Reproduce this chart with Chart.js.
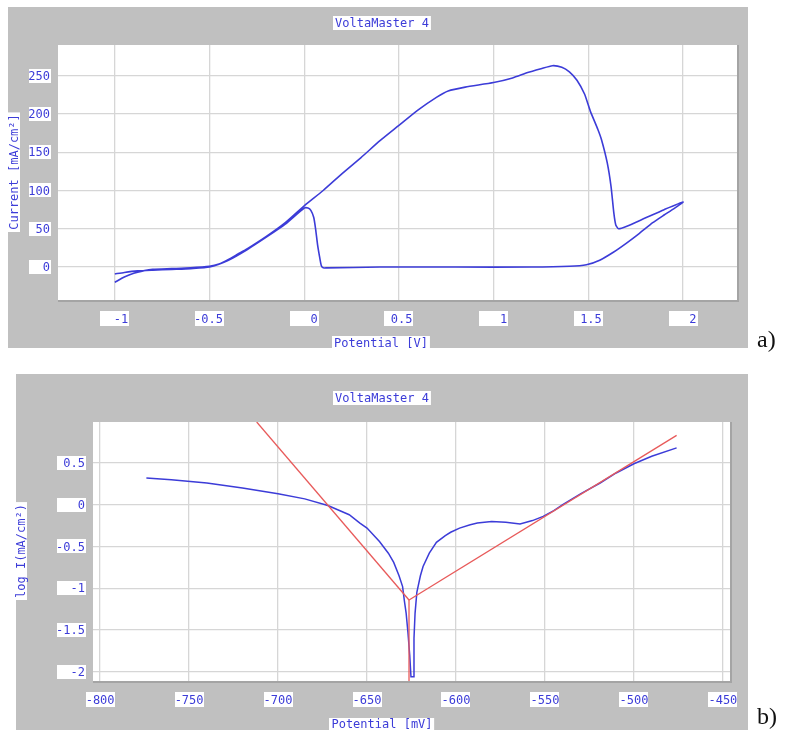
<!DOCTYPE html>
<html>
<head>
<meta charset="utf-8">
<script src="https://cdn.jsdelivr.net/npm/chart.js@4.4.1/dist/chart.umd.min.js"></script>
<style>
  body { margin: 0; background: #fff; width: 790px; height: 738px; position: relative; overflow: hidden; }
  canvas { position: absolute; left: 0; }
  #c1 { top: 0; }
  #c2 { top: 360px; }
  .tag { position: absolute; left: 757px; font: 24px "Liberation Serif", "DejaVu Serif", serif; color: #111; }
</style>
</head>
<body>
<canvas id="c1" width="790" height="360" style="width:790px;height:360px"></canvas>
<canvas id="c2" width="790" height="378" style="width:790px;height:378px"></canvas>
<div class="tag" style="top:326px">a)</div>
<div class="tag" style="top:703px">b)</div>
<script>
// a) voltamograma ciclico
const cvPotential = [-1.00, -0.95, -0.90, -0.85, -0.80, -0.70, -0.60, -0.50, -0.45, -0.40, -0.35, -0.30, -0.20, -0.10, 0.00,
  0.10, 0.20, 0.30, 0.40, 0.50, 0.60, 0.70, 0.76, 0.85, 1.00, 1.10, 1.18, 1.25, 1.31, 1.36, 1.40, 1.44, 1.48, 1.51, 1.55,
  1.57, 1.60, 1.62, 1.635, 1.645, 1.66, 1.70, 1.80, 1.90, 2.00,
  1.95, 1.90, 1.84, 1.77, 1.70, 1.63, 1.56, 1.49, 1.40, 1.20, 0.80, 0.40, 0.12, 0.10, 0.09, 0.08, 0.07, 0.06, 0.05, 0.035, 0.02, 0.00,
  -0.10, -0.20, -0.30, -0.40, -0.50, -0.60, -0.70, -0.80, -0.88, -0.95, -1.00];
const cvCurrent = [-20, -13, -8, -5, -3, -2, -1, 1, 4, 10, 17, 24, 40, 58, 80,
  100, 122, 143, 165, 185, 205, 222, 230, 235, 241, 247, 254, 259, 263, 261, 255, 244, 226, 204, 180,
  166, 136, 105, 70, 55, 50, 53, 64, 75, 85,
  76, 68, 58, 44, 31, 19, 9, 3, 1, 0, 0, 0, -1, -1, 2, 15, 30, 50, 65, 74, 77, 77,
  56, 39, 23, 9, 0, -2, -3, -4, -5, -7, -9];
const cvXTicks = [-1, -0.5, 0, 0.5, 1, 1.5, 2];
const cvYTicks = [0, 50, 100, 150, 200, 250];

// b) curva de Tafel
const logPotential = [-774, -760, -740, -720, -700, -685, -672, -660, -654, -650, -643, -638, -635, -632, -630, -629, -628, -627,
  -626, -625.3, -624, -623.6, -623, -622, -620, -618.5, -615, -611, -606, -603, -598, -592, -588, -580, -572, -564, -557,
  -551, -545, -540, -530, -519, -510, -500, -490, -476];
const logCurrent = [0.32, 0.30, 0.26, 0.20, 0.13, 0.07, -0.01, -0.12, -0.22, -0.28, -0.44, -0.58, -0.69, -0.85, -0.98, -1.15, -1.30, -1.53,
  -1.80, -2.06, -2.06, -1.60, -1.30, -1.05, -0.85, -0.74, -0.58, -0.45, -0.37, -0.33, -0.28, -0.24, -0.22, -0.20, -0.21, -0.23, -0.19,
  -0.14, -0.07, 0.00, 0.13, 0.26, 0.38, 0.49, 0.58, 0.68];
const cathodicPotential = [-712, -626.4];
const cathodicLogI = [0.99, -1.14];
const anodicPotential = [-626.4, -476];
const anodicLogI = [-1.14, 0.83];
const ecorrPotential = [-626.4, -626.4];
const ecorrLogI = [-1.14, -2.11];
const logXTicks = [-800, -750, -700, -650, -600, -550, -500, -450];
const logYTicks = [0.5, 0, -0.5, -1, -1.5, -2];

const azul = '#3c3cd8';
const rojo = '#e85a5a';
const fuente = '12px "DejaVu Sans Mono", "Liberation Mono", monospace';

function puntos(xs, ys) {
    return xs.map((x, i) => ({ x: x, y: ys[i] }));
}

function caja(ctx, texto, cx, cy, w, h, align) {
    ctx.fillStyle = '#fff';
    ctx.fillRect(Math.round(cx - w / 2), Math.round(cy - h / 2), w, h);
    ctx.fillStyle = azul;
    ctx.textBaseline = 'middle';
    if (align === 'right') {
        ctx.textAlign = 'right';
        ctx.fillText(texto, cx + w / 2 - 1, cy + 1);
    } else {
        ctx.textAlign = 'center';
        ctx.fillText(texto, cx, cy + 1);
    }
}

// marco gris estilo VoltaMaster, etiquetas en cajitas blancas
function marco(opc) {
    return {
        id: 'marco',
        beforeDraw(chart) {
            const ctx = chart.ctx;
            const a = chart.chartArea;
            ctx.save();
            ctx.fillStyle = '#c0c0c0';
            ctx.fillRect(opc.panel[0], opc.panel[1], opc.panel[2] - opc.panel[0], opc.panel[3] - opc.panel[1]);
            ctx.fillStyle = '#fff';
            ctx.fillRect(a.left, a.top, a.right - a.left, a.bottom - a.top);
            ctx.restore();
        },
        afterDraw(chart) {
            const ctx = chart.ctx;
            const a = chart.chartArea;
            const sx = chart.scales.x, sy = chart.scales.y;
            ctx.save();
            ctx.strokeStyle = '#a4a4a4';
            ctx.lineWidth = 2;
            ctx.beginPath();
            ctx.moveTo(a.left, a.bottom + 1);
            ctx.lineTo(a.right + 1, a.bottom + 1);
            ctx.lineTo(a.right + 1, a.top);
            ctx.stroke();
            ctx.font = fuente;
            opc.xTicks.forEach(v => caja(ctx, String(v), sx.getPixelForValue(v), opc.xTickY, 29, 15, opc.xAlign));
            opc.yTicks.forEach(v => caja(ctx, String(v), opc.yTickX, sy.getPixelForValue(v), opc.yTickW, 14, 'right'));
            const wt = ctx.measureText(opc.titulo).width + 4;
            caja(ctx, opc.titulo, opc.tituloPos[0], opc.tituloPos[1], wt, 14);
            const wx = ctx.measureText(opc.xTitulo).width + 4;
            caja(ctx, opc.xTitulo, opc.xTituloPos[0], opc.xTituloPos[1], wx, 13);
            ctx.translate(opc.yTituloPos[0], opc.yTituloPos[1]);
            ctx.rotate(-Math.PI / 2);
            const wy = ctx.measureText(opc.yTitulo).width + 4;
            caja(ctx, opc.yTitulo, 0, 0, wy, 12);
            ctx.restore();
        }
    };
}

function escala(min, max, ticks, horizontal) {
    return {
        type: 'linear',
        min: min,
        max: max,
        afterBuildTicks: s => { s.ticks = ticks.map(v => ({ value: v })); },
        afterFit: s => { if (horizontal) s.height = 0; else s.width = 0; },
        ticks: { display: false },
        border: { display: false },
        grid: { color: '#d6d6d6', lineWidth: 1.3, drawTicks: false }
    };
}

const comunes = {
    responsive: false,
    animation: false,
    plugins: { legend: { display: false }, tooltip: { enabled: false } },
    elements: { point: { radius: 0 } }
};

new Chart(document.getElementById('c1').getContext('2d'), {
    type: 'scatter',
    data: {
        datasets: [{
            data: puntos(cvPotential, cvCurrent),
            showLine: true,
            borderColor: azul,
            borderWidth: 1.6,
            tension: 0.2
        }]
    },
    options: Object.assign({}, comunes, {
        layout: { padding: { left: 58, top: 45, right: 53, bottom: 60 } },
        scales: {
            x: escala(-1.30, 2.285, cvXTicks, true),
            y: escala(-43, 290, cvYTicks, false)
        }
    }),
    plugins: [marco({
        panel: [8, 7, 748, 348],
        xTicks: cvXTicks, yTicks: cvYTicks,
        xTickY: 318.5, xAlign: 'right',
        yTickX: 40, yTickW: 22,
        titulo: 'VoltaMaster 4', tituloPos: [382, 22.5],
        xTitulo: 'Potential [V]', xTituloPos: [381, 342.5],
        yTitulo: 'Current [mA/cm²]', yTituloPos: [14, 172]
    })]
});

new Chart(document.getElementById('c2').getContext('2d'), {
    type: 'scatter',
    data: {
        datasets: [{
            data: puntos(cathodicPotential, cathodicLogI),
            showLine: true, borderColor: rojo, borderWidth: 1.3
        }, {
            data: puntos(anodicPotential, anodicLogI),
            showLine: true, borderColor: rojo, borderWidth: 1.3
        }, {
            data: puntos(ecorrPotential, ecorrLogI),
            showLine: true, borderColor: rojo, borderWidth: 1.3
        }, {
            data: puntos(logPotential, logCurrent),
            showLine: true, borderColor: azul, borderWidth: 1.5
        }]
    },
    options: Object.assign({}, comunes, {
        layout: { padding: { left: 93, top: 62, right: 60, bottom: 57 } },
        scales: {
            x: escala(-804, -446, logXTicks, true),
            y: escala(-2.11, 0.99, logYTicks, false)
        }
    }),
    plugins: [marco({
        panel: [16, 14, 748, 370],
        xTicks: logXTicks, yTicks: logYTicks,
        xTickY: 339.5, xAlign: 'center',
        yTickX: 71.5, yTickW: 29,
        titulo: 'VoltaMaster 4', tituloPos: [382, 37.5],
        xTitulo: 'Potential [mV]', xTituloPos: [382, 364],
        yTitulo: 'log I(mA/cm²)', yTituloPos: [21, 191]
    })]
});
</script>
</body>
</html>
